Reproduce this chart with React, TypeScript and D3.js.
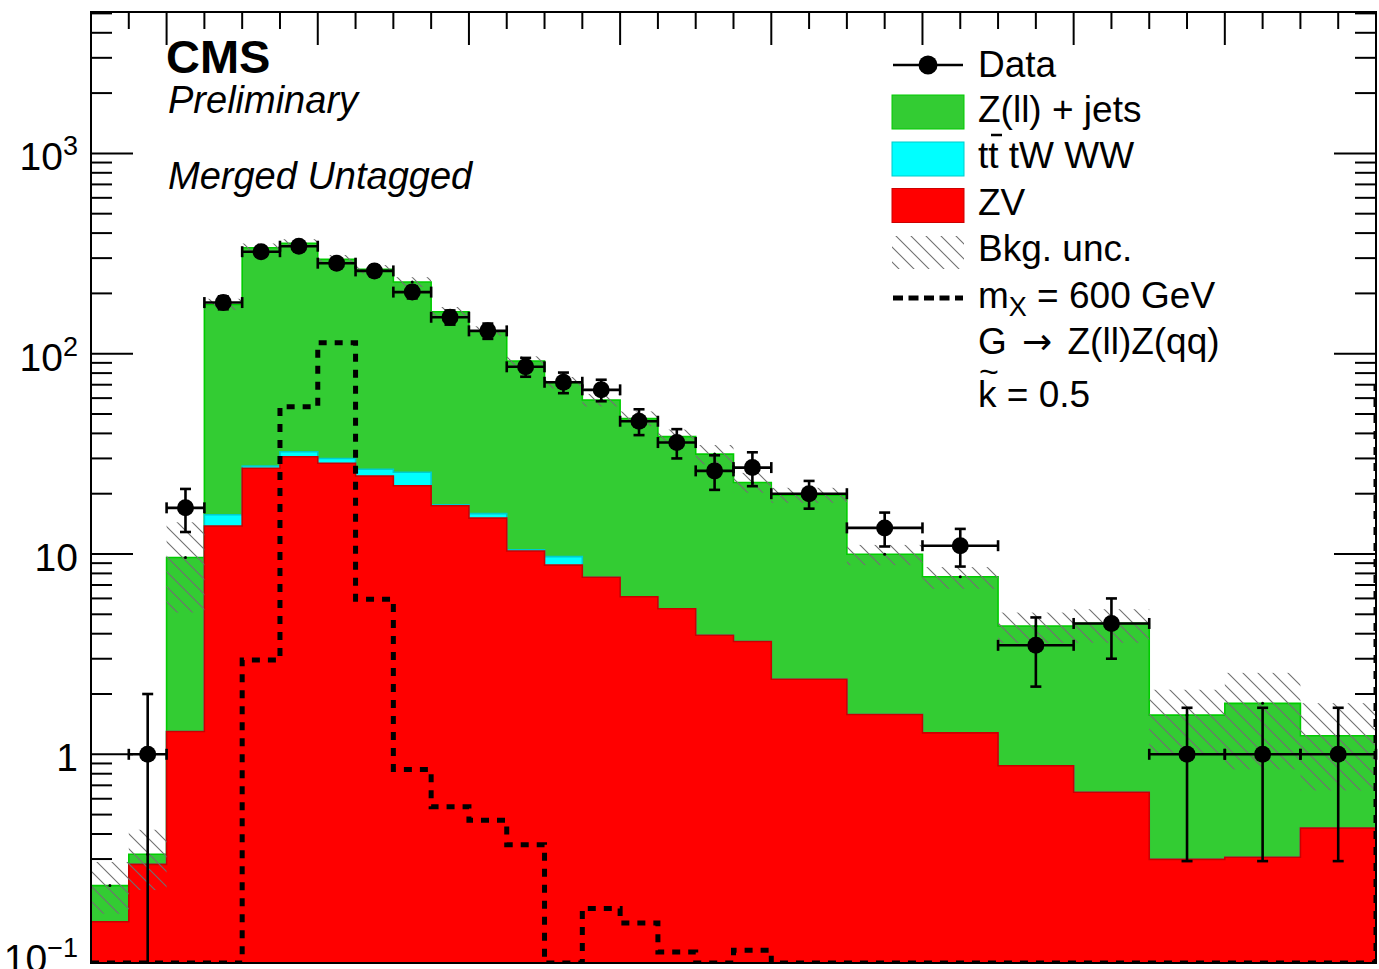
import React from 'react';
import * as d3 from 'd3';

// ---------------- data ----------------
// bin edges in GeV (narrow bins 25 GeV, wide bins 50 GeV)
const binEdges = [450, 475, 500, 525, 550, 575, 600, 625, 650, 675, 700, 725, 750, 775, 800, 825, 850, 875, 900, 950, 1000, 1050, 1100, 1150, 1200, 1250, 1300];
const refBinWidth = 25; // content normalised to 25 GeV

// observed events per bin
const dataCounts = [0, 1, 17, 180, 323, 344, 283, 259, 203, 152, 130, 86, 72, 66, 46, 36, 26, 27, 40, 27, 22, 7, 9, 2, 2, 2];

// stacked backgrounds (already normalised, as drawn)
const zvYield = [0.146, 0.282, 1.3, 13.8, 26.8, 30.6, 28.4, 24.5, 21.9, 17.4, 15.1, 10.35, 8.8, 7.65, 6.12, 5.33, 3.93, 3.66, 2.37, 1.58, 1.28, 0.877, 0.646, 0.299, 0.306, 0.428];
const ttYield = [0, 0, 0, 1.9, 0.7, 1.8, 1.6, 2.0, 3.7, 0.2, 0.8, 0.15, 0.9, 0, 0, 0, 0, 0, 0, 0, 0, 0, 0, 0, 0, 0];
const zjetsYield = [0.075, 0.035, 8.3, 160.3, 310.5, 323.6, 266, 237.5, 202.4, 144.4, 114.1, 81.5, 62, 51.05, 41.3, 33.2, 27.6, 19.1, 17.3, 8.39, 6.42, 3.49, 3.86, 1.27, 1.49, 0.81];

// background uncertainty band (lower / upper edge)
const bkgUncLow = [0.16, 0.21, 5.1, 165, 322, 338, 282, 251, 215, 154, 123, 87, 67, 54.5, 43.5, 35.5, 28, 20.2, 18, 8.8, 6.7, 3.6, 3.6, 1.0, 0.84, 0.66];
const bkgUncHigh = [0.29, 0.42, 14.4, 188, 355, 373, 311, 277, 241, 171, 137, 97, 76.5, 63, 51.5, 41.8, 35, 25.4, 21.4, 11.1, 8.6, 5.1, 5.3, 2.1, 2.55, 1.8];

// signal m_X = 600 GeV
const signalYield = [0, 0, 0, 0, 2.96, 54.4, 113.5, 5.94, 0.84, 0.547, 0.468, 0.354, 0, 0.17, 0.144, 0.103, 0, 0.105, 0, 0, 0, 0, 0, 0, 0, 0];
const signalRightEdge = 70;

// axis
const yMajorTicks = [0.1, 1, 10, 100, 1000];
const yTickLabels = [
  { base: '10', exp: '\u22121' },
  { base: '1', exp: '' },
  { base: '10', exp: '' },
  { base: '10', exp: '2' },
  { base: '10', exp: '3' },
];

// ---------------- layout ----------------
const W = 1379;
const H = 969;
const X0 = 91;
const X1 = 1376;
const Y0 = 12;
const Y1 = 963;
const Y_MIN = 0.0908;
const Y_MAX = 5080;
const FONT = "'Liberation Sans', Arial, Helvetica, sans-serif";

const GREEN = '#33cc33';
const GREEN_LINE = '#00cc00';
const CYAN = '#00ffff';
const CYAN_LINE = '#00cccc';
const RED = '#ff0000';
const RED_LINE = '#cc0000';

export default function App() {
  const x = d3.scaleLinear().domain([binEdges[0], binEdges[binEdges.length - 1]]).range([X0, X1]);
  const y = d3.scaleLog().domain([Y_MIN, Y_MAX]).range([Y1, Y0]);
  const yc = (v: number) => y(Math.max(v, Y_MIN));
  const nb = zvYield.length;

  const cumRed = zvYield;
  const cumCyan = zvYield.map((v, i) => v + ttYield[i]);
  const cumGreen = cumCyan.map((v, i) => v + zjetsYield[i]);

  const stepPts = (vals: number[]) => [
    [binEdges[0], Y_MIN],
    ...vals.map((v, i) => [binEdges[i], v]),
    [binEdges[nb], vals[nb - 1]],
    [binEdges[nb], Y_MIN],
  ];
  const area = d3
    .area<number[]>()
    .x((d) => x(d[0]))
    .y0(Y1)
    .y1((d) => yc(d[1]))
    .curve(d3.curveStepAfter);
  const line = d3
    .line<number[]>()
    .x((d) => x(d[0]))
    .y((d) => yc(d[1]))
    .curve(d3.curveStepAfter);

  const signalPts = [
    [binEdges[0], Y_MIN],
    ...signalYield.map((v, i) => [binEdges[i], v]),
    [binEdges[nb], signalYield[nb - 1]],
    [binEdges[nb], signalRightEdge],
  ];

  const yTicks = y.ticks().filter((t) => t >= Y_MIN && t <= Y_MAX);
  const isMajorY = (t: number) => Math.abs(Math.log10(t) - Math.round(Math.log10(t))) < 1e-6;
  const xTicks = d3.range(binEdges[0], binEdges[nb] + 1, 25);
  const isMajorX = (t: number) => t % 100 === 0;

  const data = dataCounts
    .map((n, i) => {
      const w = (binEdges[i + 1] - binEdges[i]) / refBinWidth;
      return { i, n, v: n / w, e: Math.sqrt(n) / w, lo: binEdges[i], hi: binEdges[i + 1] };
    })
    .filter((d) => d.n > 0);

  const layers = [
    { vals: cumGreen, fill: GREEN, stroke: GREEN_LINE },
    { vals: cumCyan, fill: CYAN, stroke: CYAN_LINE },
    { vals: cumRed, fill: RED, stroke: RED_LINE },
  ];

  const cap = 5.5;
  const legX = 978;
  const legendFont = 37;

  return (
    <svg
      width={W}
      height={H}
      viewBox={`0 0 ${W} ${H}`}
      style={{ position: 'absolute', left: 0, top: 0, background: '#fff', display: 'block' }}
      fontFamily={FONT}
    >
      <defs>
        <pattern id="hatch" patternUnits="userSpaceOnUse" width={15} height={15}>
          <path d="M0,0 L15,15 M-3,12 L3,18 M12,-3 L18,3" stroke="#707070" strokeWidth={1.1} fill="none" />
        </pattern>
        <clipPath id="plotclip">
          <rect x={X0} y={Y0} width={X1 - X0} height={Y1 - Y0} />
        </clipPath>
      </defs>
      <rect x={0} y={0} width={W} height={H} fill="#fff" />

      {/* ticks (drawn before histograms, as in ROOT) */}
      <g stroke="#000" strokeWidth={2}>
        {yTicks.map((t) => {
          const len = isMajorY(t) ? 42 : 21;
          const yy = y(t);
          return (
            <g key={'yt' + t}>
              <line x1={X0} x2={X0 + len} y1={yy} y2={yy} />
              <line x1={X1} x2={X1 - len} y1={yy} y2={yy} />
            </g>
          );
        })}
        {xTicks.map((t) => {
          const len = isMajorX(t) ? 33 : 17;
          const xx = x(t);
          return <line key={'xt' + t} x1={xx} x2={xx} y1={Y0} y2={Y0 + len} />;
        })}
      </g>

      <g clipPath="url(#plotclip)">
        {/* stacked backgrounds */}
        {layers.map((l, k) => (
          <g key={'layer' + k}>
            <path d={area(stepPts(l.vals) as number[][]) || ''} fill={l.fill} stroke="none" />
            <path d={line(stepPts(l.vals) as number[][]) || ''} fill="none" stroke={l.stroke} strokeWidth={1.6} />
          </g>
        ))}

        {/* uncertainty band */}
        {bkgUncLow.map((lo, i) => (
          <rect
            key={'unc' + i}
            x={x(binEdges[i])}
            width={x(binEdges[i + 1]) - x(binEdges[i])}
            y={yc(bkgUncHigh[i])}
            height={yc(lo) - yc(bkgUncHigh[i])}
            fill="url(#hatch)"
          />
        ))}
        {cumGreen.map((v, i) => (
          <circle key={'ud' + i} cx={x((binEdges[i] + binEdges[i + 1]) / 2)} cy={yc(v)} r={1.5} fill="#000" />
        ))}

        {/* signal */}
        <path
          d={line(signalPts as number[][]) || ''}
          fill="none"
          stroke="#000"
          strokeWidth={5}
          strokeDasharray="8 8"
        />
      </g>

      {/* data */}
      <g stroke="#000" strokeWidth={2.6}>
        {data.map((d) => {
          const cx = x((d.lo + d.hi) / 2);
          const cy = yc(d.v);
          const yUp = yc(d.v + d.e);
          const lowVal = d.v - d.e;
          const yDn = yc(lowVal);
          const xl = x(d.lo);
          const xr = x(d.hi);
          return (
            <g key={'d' + d.i}>
              <line x1={xl} x2={xr} y1={cy} y2={cy} />
              <line x1={xl} x2={xl} y1={cy - cap} y2={cy + cap} />
              <line x1={xr} x2={xr} y1={cy - cap} y2={cy + cap} />
              <line x1={cx} x2={cx} y1={yUp} y2={yDn} />
              <line x1={cx - cap} x2={cx + cap} y1={yUp} y2={yUp} />
              {lowVal > Y_MIN && <line x1={cx - cap} x2={cx + cap} y1={yDn} y2={yDn} />}
              <circle cx={cx} cy={cy} r={8.5} fill="#000" stroke="none" />
            </g>
          );
        })}
      </g>

      {/* frame */}
      <rect x={X0} y={Y0} width={X1 - X0} height={Y1 - Y0} fill="none" stroke="#000" strokeWidth={2} />

      {/* y labels */}
      {yMajorTicks.map((t, i) => {
        const lab = yTickLabels[i];
        return (
          <text key={'yl' + t} x={78} y={y(t) + 17} fontSize={39} textAnchor="end" fill="#000">
            {lab.base}
            {lab.exp && (
              <tspan fontSize={27} dy={-15}>
                {lab.exp}
              </tspan>
            )}
          </text>
        );
      })}

      {/* CMS labels */}
      <text x={166} y={73} fontSize={47} fontWeight="bold" fill="#000">
        CMS
      </text>
      <text x={168} y={113} fontSize={38} fontStyle="italic" fill="#000">
        Preliminary
      </text>
      <text x={168} y={189} fontSize={38} fontStyle="italic" fill="#000">
        Merged Untagged
      </text>

      {/* legend */}
      <g>
        <line x1={893} x2={963} y1={65} y2={65} stroke="#000" strokeWidth={2.6} />
        <circle cx={928} cy={65} r={9.5} fill="#000" />
        <rect x={892} y={95} width={72} height={34} fill={GREEN} stroke={GREEN_LINE} strokeWidth={1} />
        <rect x={892} y={142} width={72} height={34} fill={CYAN} stroke={CYAN_LINE} strokeWidth={1} />
        <rect x={892} y={188.5} width={72} height={34} fill={RED} stroke={RED_LINE} strokeWidth={1} />
        <rect x={892} y={236} width={72} height={33} fill="url(#hatch)" />
        <line x1={893} x2={963} y1={298} y2={298} stroke="#000" strokeWidth={5} strokeDasharray="10 5.5" />

        <g fontSize={legendFont} fill="#000">
          <text x={legX} y={77}>Data</text>
          <text x={legX} y={122}>Z(ll) + jets</text>
          <text x={legX} y={168}>tt tW WW</text>
          <text x={legX} y={215}>ZV</text>
          <text x={legX} y={261}>Bkg. unc.</text>
          <text x={legX} y={308}>
            m<tspan fontSize={27} dy={8}>X</tspan>
            <tspan dy={-8}> = 600 GeV</tspan>
          </text>
          <text x={legX} y={354}>
            G <tspan dx={5} fontFamily="'DejaVu Sans', sans-serif" fontSize={36}>{'\u2192'}</tspan>
            <tspan dx={5}> Z(ll)Z(qq)</tspan>
          </text>
          <text x={legX} y={407}>k = 0.5</text>
          <text x={legX + 1} y={383} fontSize={34}>~</text>
        </g>
        <line x1={991} x2={1002} y1={135} y2={135} stroke="#000" strokeWidth={2.5} />
      </g>
    </svg>
  );
}
